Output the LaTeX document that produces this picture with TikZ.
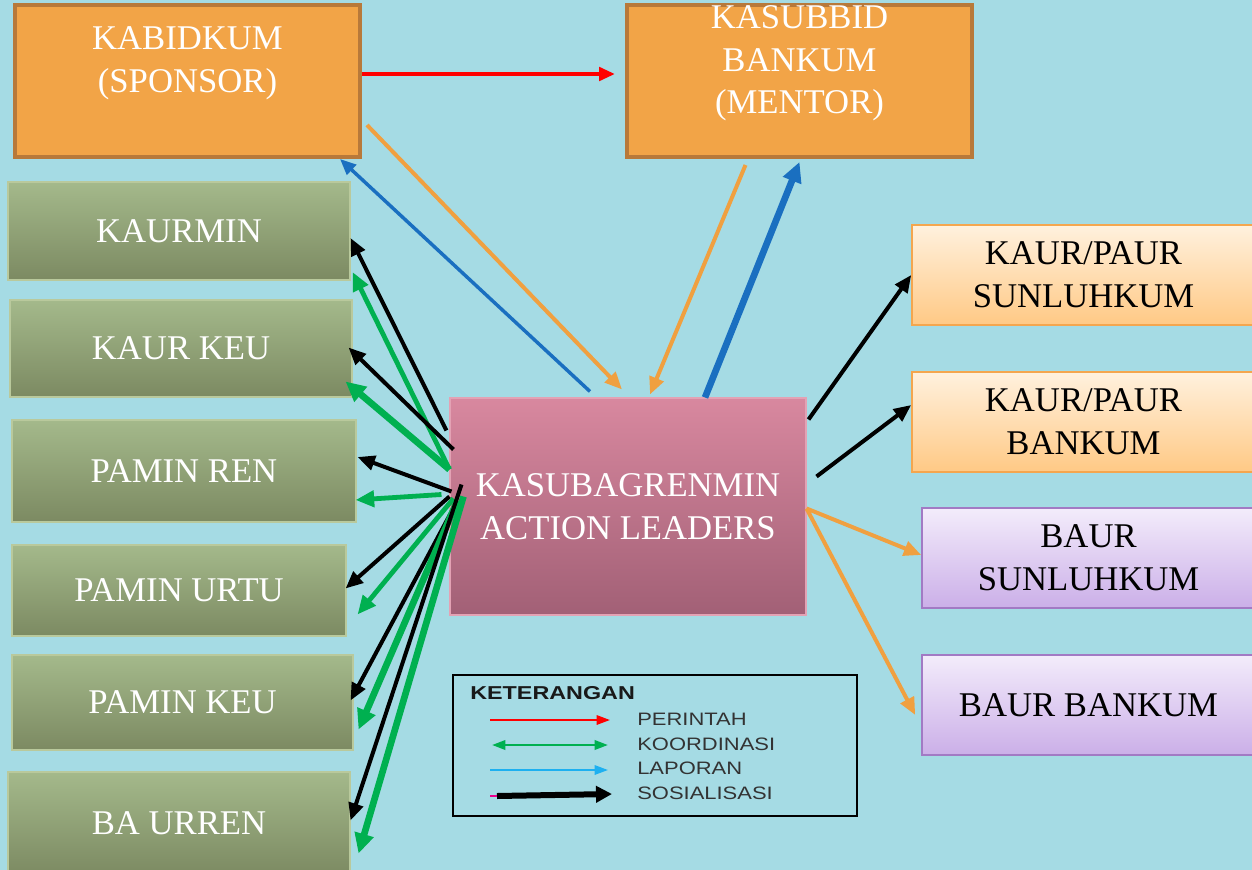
\documentclass[tikz,border=0pt]{standalone}
\usepackage{fontspec}
\setmainfont{Liberation Serif}
\newfontfamily\legfont{Liberation Sans}
\usetikzlibrary{arrows.meta,calc}
\definecolor{bg}{HTML}{A5DBE4}
\definecolor{orfill}{HTML}{F2A447}
\definecolor{orbd}{HTML}{B8793A}
\definecolor{grtop}{HTML}{A4B98B}
\definecolor{grbot}{HTML}{7C8A62}
\definecolor{grbd}{HTML}{B9C99C}
\definecolor{pktop}{HTML}{D8889F}
\definecolor{pkbot}{HTML}{A26076}
\definecolor{pkbd}{HTML}{E3A2B4}
\definecolor{petop}{HTML}{FFF1DE}
\definecolor{pebot}{HTML}{FFC985}
\definecolor{pebd}{HTML}{F4A64E}
\definecolor{lvtop}{HTML}{F3ECFB}
\definecolor{lvbot}{HTML}{CBAFE8}
\definecolor{lvbd}{HTML}{A27AC4}
\definecolor{arred}{HTML}{FF0000}
\definecolor{arorange}{HTML}{F0A040}
\definecolor{arblue}{HTML}{1A6FC0}
\definecolor{argreen}{HTML}{00B050}
\definecolor{lgblue}{HTML}{1EB0F0}
\definecolor{lgtext}{HTML}{333333}
\begin{document}
\begin{tikzpicture}[x=0.75pt,y=-0.75pt,
  every node/.style={inner sep=0pt, align=center},
  txt/.style={font=\fontsize{26}{32}\selectfont},
  orangebox/.style={txt, draw=orbd, line width=3pt, fill=orfill, text=white},
  greenbox/.style={txt, draw=grbd, line width=0.8pt, top color=grtop, bottom color=grbot, text=white},
  pinkbox/.style={txt, draw=pkbd, line width=0.8pt, top color=pktop, bottom color=pkbot, text=white},
  peachbox/.style={txt, draw=pebd, line width=1.2pt, top color=petop, bottom color=pebot, text=black},
  lavbox/.style={txt, draw=lvbd, line width=1.2pt, top color=lvtop, bottom color=lvbot, text=black},
  blk/.style={draw=black, line width=3pt, -{Triangle[length=13pt,width=11pt]}},
  grn/.style={draw=argreen, line width=3.6pt, -{Triangle[length=14pt,width=12pt]}},
  grnthick/.style={draw=argreen, line width=5pt, -{Triangle[length=15pt,width=14pt]}},
  org/.style={draw=arorange, line width=3pt, -{Triangle[length=13pt,width=11pt]}},
  blu/.style={draw=arblue, line width=2.6pt, -{Triangle[length=12pt,width=10pt]}},
  bluthick/.style={draw=arblue, line width=5pt, -{Triangle[length=15pt,width=14pt]}},
  rd/.style={draw=arred, line width=3pt, -{Triangle[length=12pt,width=10pt]}},
  leglabel/.style={anchor=west, text=lgtext, font=\legfont\fontsize{13.5}{15}\selectfont}
]
\fill[bg] (0,0) rectangle (1252,870);
\clip (0,0) rectangle (1252,870);

% top boxes
\node[orangebox, minimum width=258.75pt, minimum height=114pt] (kabid) at (187.5,81) {KABIDKUM\\(SPONSOR)\\\mbox{}};
\node[orangebox, minimum width=258.75pt, minimum height=114pt] (kasub) at (799.5,81) {KASUBBID\\BANKUM\\(MENTOR)\\\mbox{}};

% left boxes
\node[greenbox, minimum width=256.5pt, minimum height=73.5pt] (kaurmin) at (179,231) {KAURMIN};
\node[greenbox, minimum width=256.5pt, minimum height=72.75pt] (kaurkeu) at (181,348.5) {KAUR KEU};
\node[greenbox, minimum width=258pt, minimum height=76.5pt] (pren) at (184,471) {PAMIN REN};
\node[greenbox, minimum width=250.5pt, minimum height=68.25pt] (purtu) at (179,590.5) {PAMIN URTU};
\node[greenbox, minimum width=255.75pt, minimum height=71.25pt] (pkeu) at (182.5,702.5) {PAMIN KEU};
\node[greenbox, minimum width=256.5pt, minimum height=77.25pt] (urren) at (179,823.5) {BA URREN};

% centre
\node[pinkbox, minimum width=267pt, minimum height=162.75pt] (ctr) at (628,506.5) {KASUBAGRENMIN\\ACTION LEADERS};

% right boxes
\node[peachbox, minimum width=257.25pt, minimum height=75pt] (sun1) at (1083.5,275) {KAUR/PAUR\\SUNLUHKUM};
\node[peachbox, minimum width=257.25pt, minimum height=75pt] (ban1) at (1083.5,422) {KAUR/PAUR\\BANKUM};
\node[lavbox, minimum width=249.75pt, minimum height=75pt] (sun2) at (1088.5,558) {BAUR\\SUNLUHKUM};
\node[lavbox, minimum width=249.75pt, minimum height=75pt] (ban2) at (1088.5,705) {BAUR BANKUM};

% top connectors
\draw[rd] ($(kabid.east)+(0,-7)$) -- ($(kasub.west)+(-10,-7)$);
\draw[org] ($(kabid.east)+(5,44)$) -- ($(ctr.north)+(-6,-8)$);
\draw[blu] ($(ctr.north)+(-38,-6)$) -- ($(kabid.south east)+(-22,0)$);
\draw[org] ($(kasub.south)+(-54,6)$) -- ($(ctr.north)+(22,-3)$);
\draw[bluthick] ($(ctr.north)+(77,0)$) -- ($(kasub.south)+(0,3)$);

% right connectors
\draw[blk] ($(ctr.north east)+(2,22)$) -- (sun1.west);
\draw[blk] ($(ctr.east)+(10,-30)$) -- ($(ban1.west)+(0,-17)$);
\draw[org] ($(ctr.east)+(0,2)$) -- ($(sun2.west)+(0,-3)$);
\draw[org] ($(ctr.east)+(0,2)$) -- ($(ban2.west)+(-6,10)$);

% left fan
\coordinate (fa) at ($(ctr.west)+(-3,-76)$);
\coordinate (fb) at ($(ctr.west)+(0,-37)$);
\coordinate (fc) at ($(ctr.west)+(4,-57)$);
\coordinate (fd) at ($(ctr.west)+(2,-15)$);
\coordinate (fe) at ($(ctr.west)+(-8,-12)$);
\coordinate (ff) at ($(ctr.west)+(0,-10)$);
\coordinate (fg) at ($(ctr.west)+(4,-8)$);
\coordinate (fh) at ($(ctr.west)+(8,-6)$);
\coordinate (fi) at ($(ctr.west)+(12,-22)$);
\coordinate (fj) at ($(ctr.west)+(14,-10)$);

\draw[grn] (fb) -- ($(kaurmin.east)+(2,41)$);
\draw[grnthick] (fb) -- ($(kaurkeu.east)+(-7,33)$);
\draw[blk] (fa) -- ($(kaurmin.east)+(0,7)$);
\draw[blk] (fc) -- ($(kaurkeu.east)+(-4,-1)$);
\draw[blk] (fd) -- ($(pren.east)+(1,-14)$);
\draw[grn] (fe) -- ($(pren.east)+(-1,29)$);
\draw[blk] (ff) -- ($(purtu.east)+(-1,-2)$);
\draw[grn] (fg) -- ($(purtu.east)+(11,24)$);
\draw[blk] (fh) -- ($(pkeu.east)+(-3,-2)$);
\draw[grnthick] (fh) -- ($(pkeu.east)+(5,27)$);
\draw[blk] (fi) -- ($(urren.east)+(0,-3)$);
\draw[grnthick] (fj) -- ($(urren.east)+(8,30)$);

% legend
\node[draw=black, line width=1.5pt, minimum width=303pt, minimum height=105.75pt] (leg) at (655,745.5) {};
\node[anchor=west, text=black!90, font=\legfont\bfseries\fontsize{14}{16}\selectfont] (ket) at (470,693) {\scalebox{1.25}[1]{KETERANGAN}};
\node[leglabel] (l1) at (637,719) {\scalebox{1.22}[1]{PERINTAH}};
\node[leglabel] (l2) at (637,744) {\scalebox{1.22}[1]{KOORDINASI}};
\node[leglabel] (l3) at (637,768) {\scalebox{1.22}[1]{LAPORAN}};
\node[leglabel] (l4) at (637,793) {\scalebox{1.22}[1]{SOSIALISASI}};
\draw[arred, line width=1.5pt, -{Triangle[length=10pt,width=7pt]}] ($(l1.west)+(-147,1)$) -- ($(l1.west)+(-27,1)$);
\draw[argreen, line width=1.8pt, {Triangle[length=10pt,width=7pt]}-{Triangle[length=10pt,width=7pt]}] ($(l2.west)+(-145,1)$) -- ($(l2.west)+(-29,1)$);
\draw[lgblue, line width=1.5pt, -{Triangle[length=10pt,width=7pt]}] ($(l3.west)+(-147,2)$) -- ($(l3.west)+(-29,2)$);
\draw[magenta, line width=1.5pt] ($(l4.west)+(-147,3)$) -- ($(l4.west)+(-135,3)$);
\draw[black, line width=4.5pt, -{Triangle[length=12pt,width=12pt]}] ($(l4.west)+(-140,3)$) -- ($(l4.west)+(-25,1)$);
\end{tikzpicture}
\end{document}
